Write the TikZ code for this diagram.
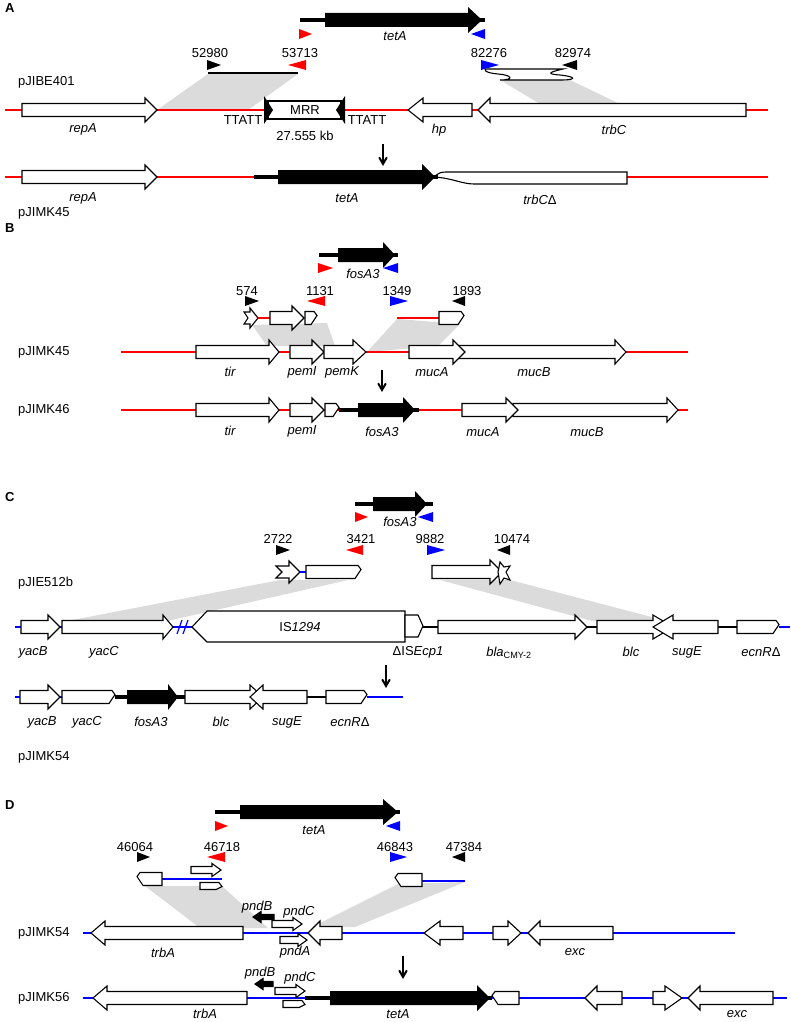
\documentclass[tikz,border=0pt]{standalone}
\usepackage{fontspec}
\setmainfont{Liberation Sans}
\usetikzlibrary{arrows}

\newcommand{\gbody}{6.5}
\newcommand{\ghead}{12}
\newcommand{\glen}{12}
\newcommand{\gene}[4][\glen]{%
  \pgfmathsetmacro{\gbase}{ifthenelse(#3>#2,#3-#1,#3+#1)}%
  \filldraw[gene] (#2,#4-\gbody) -- (\gbase,#4-\gbody) -- (\gbase,#4-\ghead) -- (#3,#4)
    -- (\gbase,#4+\ghead) -- (\gbase,#4+\gbody) -- (#2,#4+\gbody) -- cycle;}
\newcommand{\cutgene}[3]{%
  \pgfmathsetmacro{\gcuta}{ifthenelse(#2>#1,#2-3,#2+3)}%
  \pgfmathsetmacro{\gcutb}{ifthenelse(#2>#1,#2-6,#2+6)}%
  \filldraw[gene] (#1,#3-\gbody) -- (\gcuta,#3-\gbody) -- (#2,#3-\gbody+4) -- (\gcutb,#3+\gbody)
    -- (#1,#3+\gbody) -- cycle;}
\newcommand{\smallgene}[3]{{\def\gbody{3.5}\def\ghead{6.5}\def\glen{9}\gene{#1}{#2}{#3}}}
\newcommand{\smallcut}[3]{{\def\gbody{3.5}\cutgene{#1}{#2}{#3}}}
\newcommand{\pndarrow}[3]{{\def\gbody{2.5}\def\ghead{5.5}\def\glen{8}\tikzset{gene/.append style={fill=black}}\gene{#1}{#2}{#3}}}
\newcommand{\blackgene}[6]{%
  \draw[black dna, line width=4pt] (#1,#6) -- (#5,#6);
  \fill (#2,#6-7) -- (#3,#6-7) -- (#3,#6-13) -- (#4,#6) -- (#3,#6+13) -- (#3,#6+7) -- (#2,#6+7) -- cycle;}
\newcommand{\primer}[4]{\fill[#1] (#2,#4-5) -- (#2,#4+5) -- (#3,#4) -- cycle;}

\begin{document}
\begin{tikzpicture}[x=1pt, y=-1pt, font=\fontsize{13}{15}\selectfont]
    \tikzstyle{gene} = [draw=black, fill=white, line width=1.1pt]
    \tikzstyle{red dna} = [draw=red, line width=2pt]
    \tikzstyle{blue dna} = [draw=blue, line width=2pt]
    \tikzstyle{black dna} = [draw=black, line width=2pt]
    \tikzstyle{homology} = [fill=black!14]
    \tikzstyle{gene name} = [inner sep=0pt, font=\fontsize{13}{15}\selectfont\itshape]
    \tikzstyle{site} = [inner sep=0pt]
    \tikzstyle{plasmid} = [inner sep=0pt, anchor=west]
    \tikzstyle{panel} = [inner sep=0pt, anchor=west, font=\fontsize{13}{15}\selectfont\bfseries]
    \tikzstyle{down arrow} = [draw=black, line width=2pt, ->, >=angle 60]
\useasboundingbox (0,0) rectangle (791,1022);

\node[panel] (A) at (5,8) {A};
\fill[homology] (208,74) -- (298,74) -- (248,110) -- (157,110) -- cycle;
\fill[homology] (500,80) -- (570,80) -- (620,104) -- (540,104) -- cycle;
\blackgene{300}{325}{468}{482}{485}{20}
\node[gene name] (tetAa) at (395,36) {tetA};
\primer{red}{299}{312}{34}
\primer{blue}{485}{471}{34}
\node[site] (p52980) at (210,53) {52980};
\node[site] (p53713) at (300,53) {53713};
\node[site] (p82276) at (489,53) {82276};
\node[site] (p82974) at (573,53) {82974};
\primer{black}{207}{221}{65}
\primer{red}{306}{288}{65}
\primer{blue}{481}{499}{65}
\primer{black}{577}{562}{65}
\draw[line width=2.5pt] (208,73) -- (298,73);
\filldraw[gene] (488,69) -- (563,69) .. controls (550,72) and (545,74) .. (560,75)
    .. controls (578,77) and (575,80) .. (562,80) -- (500,80) .. controls (515,80) and (512,75) .. (498,74)
    .. controls (485,73) and (482,69) .. (488,69) -- cycle;
\node[plasmid] (pJIBE401) at (18,82) {pJIBE401};
\draw[red dna] (5,110) -- (768,110);
\gene{22}{157}{110}
\gene[15]{472}{408}{110}
\gene{746}{478}{110}
\filldraw[gene] (268,101) rectangle (341,119);
\fill (264,96) -- (264,124) -- (273,110) -- cycle;
\fill (345,96) -- (345,124) -- (336,110) -- cycle;
\node[site] (mrr) at (305,110) {MRR};
\node[site] (ttatta) at (243,120) {TTATT};
\node[site] (ttattb) at (367,120) {TTATT};
\node[site] (kb) at (305,136) {27.555 kb};
\node[gene name] (repAa) at (83,129) {repA};
\node[gene name] (hp) at (439,130) {hp};
\node[gene name] (trbC) at (614,130) {trbC};
\coordinate (arrAs) at (383,144);
\coordinate (arrAe) at (383,166);
\draw[down arrow] (arrAs) -- (arrAe);
\draw[red dna] (5,177) -- (768,177);
\gene{22}{157}{177}
\filldraw[gene] (434,177) .. controls (440,172) .. (450,172) -- (627,172) -- (627,184) -- (474,184)
    .. controls (462,184) and (452,178) .. (434,177) -- cycle;
\blackgene{254}{278}{422}{435}{438}{177}
\node[gene name] (repAb) at (83,198) {repA};
\node[gene name] (tetAb) at (347,198) {tetA};
\node[gene name] (trbCd) at (540,200) {trbC\textup{Δ}};
\node[plasmid] (pJIMK45a) at (18,213) {pJIMK45};

\node[panel] (B) at (5,228) {B};
\fill[homology] (252,325) -- (327,323) -- (335,346) -- (267,346) -- cycle;
\fill[homology] (397,319) -- (460,324) -- (438,346) -- (367,352) -- cycle;
\blackgene{319}{338}{383}{395}{398}{255}
\primer{red}{318}{333}{268}
\primer{blue}{398}{383}{268}
\node[gene name] (fosA3a) at (363,274) {fosA3};
\node[site] (p574) at (247,291) {574};
\node[site] (p1131) at (320,291) {1131};
\node[site] (p1349) at (397,291) {1349};
\node[site] (p1893) at (467,291) {1893};
\primer{black}{245}{259}{301}
\primer{red}{325}{307}{301}
\primer{blue}{390}{408}{301}
\primer{black}{465}{452}{301}
\filldraw[gene] (244,312) -- (250,312) -- (250,308) -- (258,318) -- (250,328) -- (250,324) -- (244,324) -- (248,318) -- cycle;
\draw[red dna] (258,318) -- (270,318);
\gene{270}{304}{318}
\cutgene{305}{317}{318}
\draw[red dna] (397,318) -- (439,318);
\cutgene{439}{464}{318}
\node[plasmid] (pJIMK45b) at (18,352) {pJIMK45};
\draw[red dna] (121,352) -- (688,352);
\gene[10]{196}{279}{352}
\gene{290}{324}{352}
\gene[13]{324}{366}{352}
\gene[11]{456}{626}{352}
\gene{409}{465}{352}
\node[gene name] (tira) at (230,372) {tir};
\node[gene name] (pemIa) at (302,372) {pemI};
\node[gene name] (pemK) at (342,372) {pemK};
\node[gene name] (mucAa) at (432,372) {mucA};
\node[gene name] (mucBa) at (534,372) {mucB};
\coordinate (arrBs) at (382,370);
\coordinate (arrBe) at (382,392);
\draw[down arrow] (arrBs) -- (arrBe);
\node[plasmid] (pJIMK46) at (18,410) {pJIMK46};
\draw[red dna] (121,410) -- (688,410);
\gene[10]{196}{279}{410}
\gene{290}{324}{410}
\cutgene{325}{339}{410}
\blackgene{339}{358}{403}{415}{419}{410}
\gene[11]{513}{678}{410}
\gene{462}{518}{410}
\node[gene name] (tirb) at (230,431) {tir};
\node[gene name] (pemIb) at (302,431) {pemI};
\node[gene name] (fosA3b) at (382,432) {fosA3};
\node[gene name] (mucAb) at (483,432) {mucA};
\node[gene name] (mucBb) at (587,432) {mucB};

\node[panel] (C) at (5,497) {C};
\fill[homology] (280,580) -- (348,580) -- (163,622) -- (62,622) -- cycle;
\fill[homology] (440,580) -- (510,580) -- (667,621) -- (592,621) -- cycle;
\blackgene{355}{373}{415}{427}{433}{504}
\primer{red}{355}{368}{517}
\primer{blue}{433}{418}{517}
\node[gene name] (fosA3c) at (400,522) {fosA3};
\node[site] (p2722) at (278,539) {2722};
\node[site] (p3421) at (361,539) {3421};
\node[site] (p9882) at (430,539) {9882};
\node[site] (p10474) at (512,539) {10474};
\primer{black}{276}{290}{550}
\primer{red}{363}{346}{550}
\primer{blue}{427}{445}{550}
\primer{black}{510}{497}{550}
\filldraw[gene] (276,566) -- (289,566) -- (289,561) -- (300,572) -- (289,583) -- (289,578) -- (276,578) -- (282,572) -- cycle;
\draw[blue dna] (300,572) -- (306,572);
\cutgene{306}{361}{572}
\gene{432}{502}{572}
\filldraw[gene] (500,562) -- (504,567) -- (510,566) -- (506,572) -- (510,580) -- (504,578) -- (500,584) -- (498,572) -- cycle;
\node[plasmid] (pJIE512b) at (18,583) {pJIE512b};
\draw[blue dna] (15,627) -- (192,627);
\draw[black dna] (423,627) -- (737,627);
\draw[blue dna] (779,627) -- (790,627);
\gene{21}{60}{627}
\gene[10]{62}{173}{627}
\draw[blue, line width=1.2pt] (177,634) -- (182,620) (183,634) -- (188,620);
\filldraw[gene] (192,627) -- (207,611) -- (405,611) -- (405,642) -- (207,642) -- cycle;
\node[site] (is1294) at (300,627) {IS\textit{1294}};
\filldraw[gene] (405,615) -- (418,615) -- (423,626) -- (418,637) -- (405,637) -- cycle;
\gene{438}{587}{627}
\gene[20]{597}{673}{627}
\gene[20]{718}{653}{627}
\cutgene{737}{779}{627}
\node[gene name] (yacBa) at (33,652) {yacB};
\node[gene name] (yacCa) at (104,652) {yacC};
\node[site] (isecp) at (418,652) {Δ{}IS\textit{Ecp1}};
\node[site] (bla) at (509,653) {\textit{bla}\textsubscript{CMY-2}};
\node[gene name] (blca) at (631,652) {blc};
\node[gene name] (sugEa) at (687,652) {sugE};
\node[gene name] (ecnRa) at (761,652) {ecnR\textup{Δ}};
\coordinate (arrCs) at (386,665);
\coordinate (arrCe) at (386,688);
\draw[down arrow] (arrCs) -- (arrCe);
\draw[blue dna] (15,697) -- (62,697);
\draw[black dna] (115,697) -- (326,697);
\draw[blue dna] (367,697) -- (403,697);
\gene{20}{60}{697}
\cutgene{62}{115}{697}
\blackgene{115}{127}{168}{178}{185}{697}
\gene[13]{185}{263}{697}
\gene[13]{307}{250}{697}
\cutgene{326}{367}{697}
\node[gene name] (yacBb) at (42,722) {yacB};
\node[gene name] (yacCb) at (87,722) {yacC};
\node[gene name] (fosA3d) at (151,722) {fosA3};
\node[gene name] (blcb) at (221,722) {blc};
\node[gene name] (sugEb) at (287,722) {sugE};
\node[gene name] (ecnRb) at (350,722) {ecnR\textup{Δ}};
\node[plasmid] (pJIMK54a) at (18,757) {pJIMK54};

\node[panel] (D) at (5,805) {D};
\fill[homology] (145,886) -- (222,886) -- (268,928) -- (200,928) -- cycle;
\fill[homology] (398,884) -- (465,882) -- (355,927) -- (312,927) -- cycle;
\blackgene{215}{240}{383}{398}{400}{812}
\primer{red}{215}{228}{826}
\primer{blue}{400}{386}{826}
\node[gene name] (tetAc) at (314,830) {tetA};
\node[site] (p46064) at (135,847) {46064};
\node[site] (p46718) at (222,847) {46718};
\node[site] (p46843) at (395,847) {46843};
\node[site] (p47384) at (464,847) {47384};
\primer{black}{137}{150}{857}
\primer{red}{225}{207}{857}
\primer{blue}{390}{407}{857}
\primer{black}{465}{452}{857}
\draw[blue dna] (162,879) -- (222,879);
\cutgene{162}{137}{879}
\smallgene{191}{221}{870}
\smallcut{200}{222}{886}
\draw[blue dna] (422,881) -- (465,881);
\cutgene{422}{395}{880}
\node[plasmid] (pJIMK54b) at (18,933) {pJIMK54};
\draw[blue dna] (83,933) -- (735,933);
\gene[14]{243}{91}{933}
\pndarrow{274}{253}{917}
\smallgene{272}{302}{924}
\smallgene{280}{307}{940}
\gene{342}{308}{933}
\gene[16]{463}{424}{933}
\gene[13]{493}{521}{933}
\gene{613}{528}{933}
\node[gene name] (pndBa) at (257,907) {pndB};
\node[gene name] (pndCa) at (299,912) {pndC};
\node[gene name] (pndA) at (295,952) {pndA};
\node[gene name] (trbAa) at (163,953) {trbA};
\node[gene name] (exca) at (575,952) {exc};
\coordinate (arrDs) at (403,956);
\coordinate (arrDe) at (403,979);
\draw[down arrow] (arrDs) -- (arrDe);
\node[plasmid] (pJIMK56) at (18,998) {pJIMK56};
\draw[blue dna] (83,998) -- (787,998);
\gene[14]{247}{93}{998}
\pndarrow{273}{255}{984}
\smallgene{275}{305}{991}
\smallcut{283}{305}{1004}
\blackgene{305}{330}{477}{490}{492}{998}
\cutgene{519}{492}{998}
\gene{622}{585}{998}
\gene[17]{653}{682}{998}
\gene{773}{688}{998}
\node[gene name] (pndBb) at (260,973) {pndB};
\node[gene name] (pndCb) at (300,978) {pndC};
\node[gene name] (trbAb) at (205,1014) {trbA};
\node[gene name] (tetAd) at (398,1014) {tetA};
\node[gene name] (excb) at (737,1014) {exc};
\end{tikzpicture}
\end{document}
